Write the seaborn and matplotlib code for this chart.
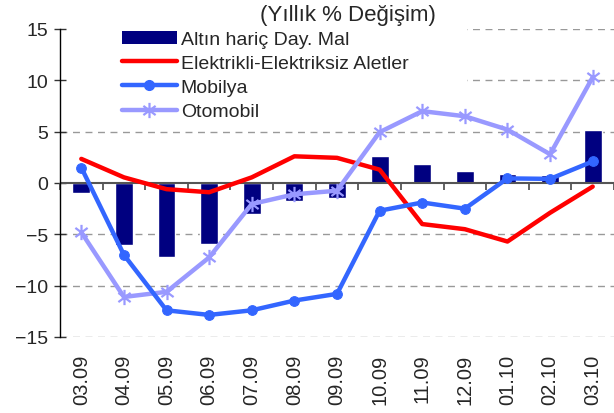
import numpy as np
import pandas as pd
import matplotlib
matplotlib.use('Agg')
import matplotlib.pyplot as plt
from matplotlib.patches import Patch, Rectangle
from matplotlib.lines import Line2D
from matplotlib.path import Path
import seaborn as sns

# data
months = ['03.09', '04.09', '05.09', '06.09', '07.09', '08.09', '09.09',
          '10.09', '11.09', '12.09', '01.10', '02.10', '03.10']
altin_haric = [-1.0, -6.0, -7.2, -5.9, -3.0, -1.8, -1.5, 2.6, 1.85, 1.2, 0.9, 0.75, 5.2]
elektrikli = [2.35, 0.55, -0.6, -0.9, 0.55, 2.6, 2.45, 1.3, -4.0, -4.5, -5.7, -2.9, -0.35]
mobilya = [1.5, -7.0, -12.4, -12.85, -12.4, -11.45, -10.8, -2.7, -1.9, -2.5, 0.45, 0.4, 2.1]
otomobil = [-4.8, -11.1, -10.6, -7.25, -2.05, -1.1, -0.75, 4.95, 7.0, 6.5, 5.2, 2.8, 10.3]
yticks = [-15, -10, -5, 0, 5, 10, 15]

df = pd.DataFrame({'ay': months, 'altin': altin_haric})
pos = np.arange(len(months))

sns.set_style('white')
plt.rcParams['font.family'] = ['Liberation Sans', 'DejaVu Sans']

navy = '#000080'
red = '#FF0000'
blue = '#3366FF'
lilac = '#9999FF'

# asterisk marker like excel's star
star = Path([(0, -1), (0, 1), (-0.8, -0.6), (0.8, 0.6), (-0.8, 0.6), (0.8, -0.6)],
            [Path.MOVETO, Path.LINETO] * 3)

fig = plt.figure(figsize=(6.14, 4.14), dpi=100)
ax = fig.add_axes([60 / 614, 1 - 338 / 414, 554 / 614, 308 / 414])

for v in yticks:
    if v != 0:
        ax.axhline(v, color='#999999', lw=1, ls=(0, (5, 4)), zorder=0)
# white box behind legend hides the gridlines as in the original
ax.add_patch(Rectangle((0, 0.685), 0.735, 0.35, transform=ax.transAxes,
                       facecolor='white', edgecolor='none', zorder=0.5, clip_on=False))

sns.barplot(data=df, x='ay', y='altin', color=navy, width=0.42, saturation=1,
            ax=ax, zorder=2)
ax.axhline(0, color='#555555', lw=1.5, zorder=2.5)
bounds = np.arange(len(months) + 1) - 0.5
ax.plot(bounds, np.zeros(len(bounds)), ls='none', marker=3, ms=5, mew=1.3,
        color='#555555', zorder=2.5, clip_on=False)

sns.lineplot(x=pos, y=elektrikli, color=red, lw=3.2, ax=ax, zorder=3)
sns.lineplot(x=pos, y=mobilya, color=blue, lw=3.2, marker='o', ms=7,
             mec=blue, ax=ax, zorder=4)
sns.lineplot(x=pos, y=otomobil, color=lilac, lw=3.2, marker=star, ms=11,
             mew=1.6, mec=lilac, ax=ax, zorder=3.5)

ax.set_xlim(-0.5, len(months) - 0.5)
ax.set_ylim(-15, 15)
ax.set_yticks(yticks)
ax.set_xticks(pos)
ax.set_xticklabels(months, rotation=90, fontsize=14.5)
ax.tick_params(axis='x', length=0, pad=12)
ax.tick_params(axis='y', length=9, width=1, direction='inout', left=True,
               labelsize=14, pad=4, color='#333333')
ax.set_xlabel('')
ax.set_ylabel('')
for s in ['top', 'right', 'bottom']:
    ax.spines[s].set_visible(False)
ax.spines['left'].set_color('black')
ax.spines['left'].set_linewidth(1)

handles = [
    Patch(facecolor=navy, edgecolor='none'),
    Line2D([], [], color=red, lw=3.2),
    Line2D([], [], color=blue, lw=3.2, marker='o', ms=7),
    Line2D([], [], color=lilac, lw=3.2, marker=star, ms=11, mew=1.6),
]
labels = ['Altın hariç Day. Mal', 'Elektrikli-Elektriksiz Aletler', 'Mobilya', 'Otomobil']
ax.legend(handles, labels, loc='upper left', bbox_to_anchor=(0.097, 1.02),
          frameon=False, fontsize=14, handlelength=2.85, handletextpad=0.2,
          labelspacing=0.33, borderaxespad=0)

fig.text(348 / 614, 1 - 15 / 414, '(Yıllık % Değişim)', ha='center', va='center',
         fontsize=16)

fig.savefig('out.png', dpi=100)
